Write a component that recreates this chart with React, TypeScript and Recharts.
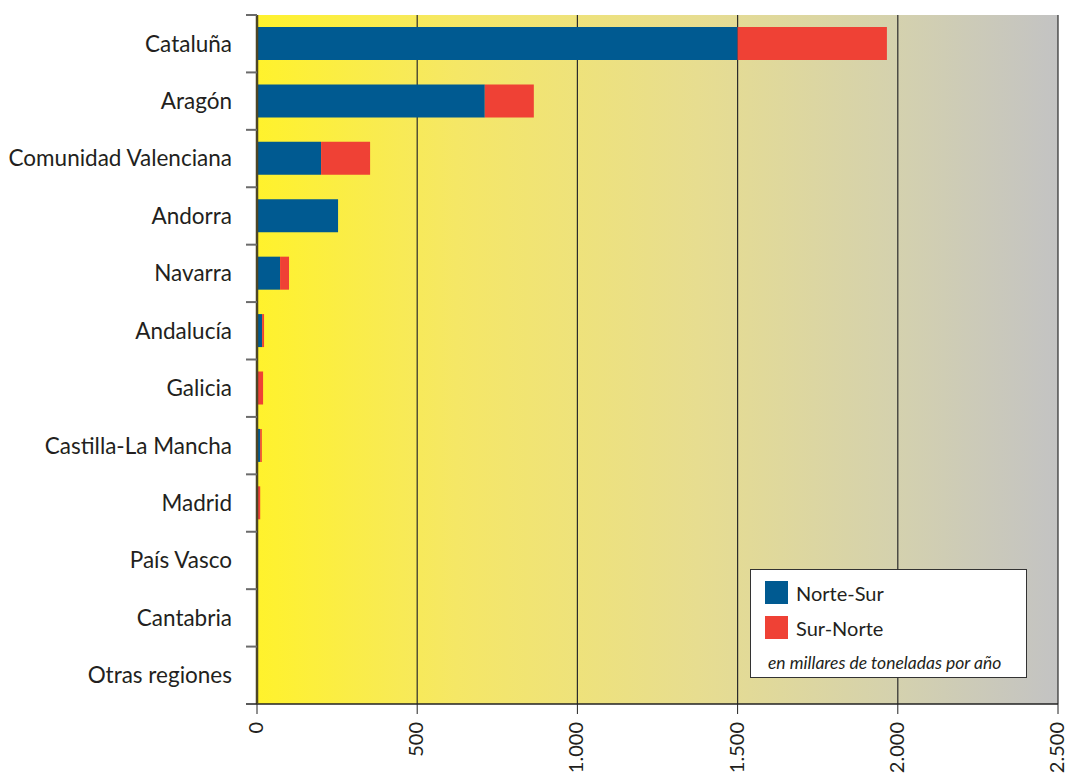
import React from "react";
import { BarChart, Bar, XAxis, YAxis, CartesianGrid, Legend } from "recharts";

const regions = [
  "Cataluña",
  "Aragón",
  "Comunidad Valenciana",
  "Andorra",
  "Navarra",
  "Andalucía",
  "Galicia",
  "Castilla-La Mancha",
  "Madrid",
  "País Vasco",
  "Cantabria",
  "Otras regiones",
];
const norteSur = [1500, 711, 200, 253, 72, 16, 0, 10, 0, 0, 0, 0];
const surNorte = [466, 153, 153, 0, 28, 6, 19, 5, 10, 0, 0, 0];
const xTicks = [0, 500, 1000, 1500, 2000, 2500];

const BLUE = "#005a91";
const RED = "#ef4135";
const FONT = "Lato, 'Open Sans', sans-serif";

const PLOT_TOP = 15;
const PLOT_BOTTOM = 704;
const BAND = (PLOT_BOTTOM - PLOT_TOP) / regions.length;

const data = regions.map((region, i) => ({
  region,
  norteSur: norteSur[i],
  surNorte: surNorte[i],
}));

const fmt = (v: number) => String(v).replace(/\B(?=(\d{3})+(?!\d))/g, ".");

function RegionTick(props: any) {
  const { x, y, payload, index } = props;
  const last = index === regions.length - 1;
  return (
    <g>
      <line x1={x + 14} x2={x + 25} y1={y - BAND / 2} y2={y - BAND / 2} stroke="#6b6b6b" strokeWidth={2} />
      {last && (
        <line x1={x + 14} x2={x + 25} y1={y + BAND / 2} y2={y + BAND / 2} stroke="#222" strokeWidth={1.5} />
      )}
      <text x={x} y={y} dy="0.35em" textAnchor="end" fill="#231f20" fontSize={22.5} fontFamily={FONT}>
        {payload.value}
      </text>
    </g>
  );
}

function ValueTick(props: any) {
  const { x, y, payload } = props;
  return (
    <text
      x={x}
      y={y}
      dy="0.3em"
      textAnchor="end"
      transform={`rotate(-90 ${x} ${y})`}
      fill="#231f20"
      fontSize={20}
      fontFamily={FONT}
    >
      {fmt(payload.value)}
    </text>
  );
}

function LegendBox(props: any) {
  const items = (props.payload || []) as any[];
  return (
    <div
      style={{
        width: 277,
        height: 109,
        boxSizing: "border-box",
        border: "1px solid #333",
        background: "#fff",
        fontFamily: FONT,
        color: "#231f20",
        padding: "5px 0 0 14px",
      }}
    >
      {items.map((it) => (
        <div key={it.value} style={{ display: "flex", alignItems: "center", height: 35 }}>
          <span style={{ width: 23, height: 23, background: it.color, display: "inline-block", marginRight: 8 }} />
          <span style={{ fontSize: 20 }}>{it.value}</span>
        </div>
      ))}
      <div style={{ fontStyle: "italic", fontSize: 17.5, lineHeight: "21px", marginTop: 7, marginLeft: 3 }}>
        en millares de toneladas por año
      </div>
    </div>
  );
}

export default function App() {
  return (
    <div style={{ position: "absolute", left: 0, top: 0, width: 1068, height: 781, background: "#fff" }}>
      <BarChart
        width={1068}
        height={781}
        data={data}
        layout="vertical"
        margin={{ top: PLOT_TOP, right: 10, bottom: 0, left: 0 }}
        barSize={33}
      >
        <defs>
          <linearGradient id="bgGrad" x1="0" y1="0" x2="1" y2="0">
            <stop offset="0%" stopColor="#fff22c" />
            <stop offset="25%" stopColor="#f5e766" />
            <stop offset="55%" stopColor="#e7dd90" />
            <stop offset="80%" stopColor="#d4d1ae" />
            <stop offset="100%" stopColor="#c3c3c3" />
          </linearGradient>
        </defs>
        <CartesianGrid horizontal={false} stroke="#2b2b2b" strokeWidth={1.2} fill="url(#bgGrad)" fillOpacity={1} />
        <XAxis
          type="number"
          domain={[0, 2500]}
          ticks={xTicks}
          interval={0}
          height={77}
          tickSize={10}
          tickMargin={8}
          axisLine={{ stroke: "#222", strokeWidth: 1.5 }}
          tickLine={{ stroke: "#222" }}
          tick={<ValueTick />}
        />
        <XAxis
          xAxisId="top"
          orientation="top"
          type="number"
          domain={[0, 2500]}
          height={0}
          tick={false}
          tickLine={false}
          axisLine={{ stroke: "#222", strokeWidth: 1.5 }}
        />
        <YAxis
          type="category"
          dataKey="region"
          width={257}
          interval={0}
          tickSize={11}
          tickMargin={14}
          tickLine={false}
          axisLine={{ stroke: "#4d4626", strokeWidth: 2.5 }}
          tick={<RegionTick />}
        />
        <Legend
          layout="horizontal"
          verticalAlign="middle"
          align="center"
          content={<LegendBox />}
          wrapperStyle={{ left: 750, top: 569, width: 277, height: 109 }}
        />
        <Bar dataKey="norteSur" name="Norte-Sur" stackId="a" fill={BLUE} isAnimationActive={false} />
        <Bar dataKey="surNorte" name="Sur-Norte" stackId="a" fill={RED} isAnimationActive={false} />
      </BarChart>
    </div>
  );
}
